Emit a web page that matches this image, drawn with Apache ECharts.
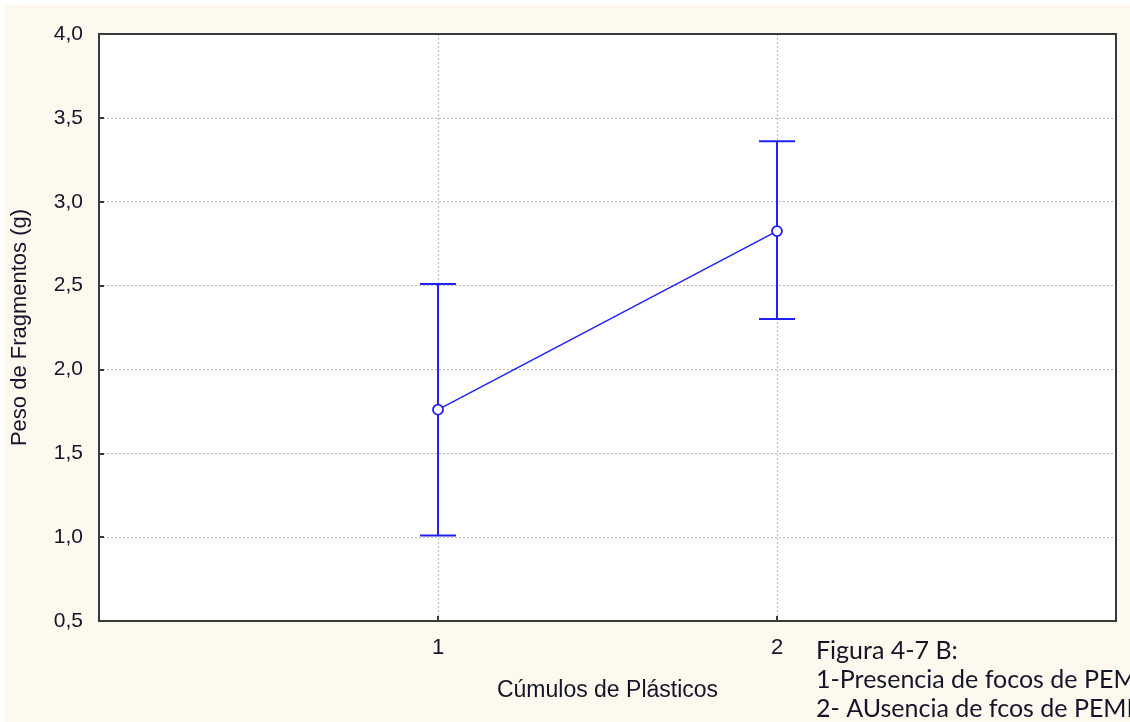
<!DOCTYPE html>
<html>
<head>
<meta charset="utf-8">
<script src="https://cdn.jsdelivr.net/npm/echarts@6/dist/echarts.min.js"></script>
<style>
  html, body { margin: 0; padding: 0; background: #ffffff; }
  #chart { width: 1130px; height: 722px; }
</style>
</head>
<body>
<div id="chart"></div>
<script>
// Groups of plastic accumulation (x positions on the numeric axis)
const groups = [1, 2];
// Mean fragment weight (g) and its interval bounds
const means = [1.76, 2.825];
const lower = [1.01, 2.30];
const upper = [2.51, 3.36];
// Axis ticks
const yTicks = [0.5, 1.0, 1.5, 2.0, 2.5, 3.0, 3.5, 4.0];
const captionLines = [
  'Figura 4-7 B:',
  '1-Presencia de focos de PEMP',
  '2- AUsencia de fcos de PEMP'
];

const blue = '#2020ff';
const ink = '#15152a';
const frame = '#3a3a3a';
const sans = '"Liberation Sans", Arial, sans-serif';

const chart = echarts.init(document.getElementById('chart'), null, { renderer: 'canvas' });

const fmt = v => v.toFixed(1).replace('.', ',');

const gridLine = {
  show: true, showMinLine: false, showMaxLine: false,
  lineStyle: { color: '#b8b8b8', type: [2, 2], width: 1 }
};

chart.setOption({
  animation: false,
  backgroundColor: '#ffffff',
  graphic: [
    { type: 'rect', z: -10, silent: true,
      shape: { x: 4, y: 5, width: 1126, height: 717 },
      style: { fill: '#fdf9ef' } },
    // plot frame
    { type: 'rect', z: 100, silent: true,
      shape: { x: 99, y: 34, width: 1017, height: 587 },
      style: { fill: null, stroke: frame, lineWidth: 2 } },
    ...captionLines.map((t, i) => ({
      type: 'text', left: 816, top: 638 + i * 29, z: 10,
      style: { text: t, fill: ink, font: '25px Lato, "Open Sans", sans-serif' }
    }))
  ],
  grid: {
    left: 99, top: 34, right: 14, bottom: 101,
    show: true, backgroundColor: '#ffffff', borderWidth: 0
  },
  xAxis: {
    type: 'value', min: 0, max: 3, interval: 1,
    name: 'Cúmulos de Plásticos', nameLocation: 'middle', nameGap: 58,
    nameTextStyle: { color: ink, fontSize: 23, fontFamily: sans },
    axisLine: { show: true, lineStyle: { color: frame, width: 2 } },
    axisTick: { show: true, inside: true, length: 5, lineStyle: { color: frame, width: 2 } },
    axisLabel: {
      color: ink, fontSize: 22, margin: 16, fontFamily: sans,
      formatter: v => (groups.includes(v) ? String(v) : '')
    },
    splitLine: gridLine
  },
  yAxis: {
    type: 'value', min: 0.5, max: 4.0, interval: 0.5,
    name: 'Peso de Fragmentos (g)', nameLocation: 'middle', nameGap: 68,
    nameTextStyle: { color: ink, fontSize: 22, fontFamily: sans },
    axisLine: { show: true, lineStyle: { color: frame, width: 2 } },
    axisTick: { show: true, inside: true, length: 5, lineStyle: { color: frame, width: 2 } },
    axisLabel: {
      color: ink, fontSize: 21, margin: 16, fontFamily: sans,
      formatter: v => (yTicks.some(t => Math.abs(t - v) < 1e-9) ? fmt(v) : '')
    },
    splitLine: gridLine
  },
  series: [
    {
      type: 'custom',
      z: 3,
      data: groups.map((g, i) => [g, lower[i], upper[i]]),
      renderItem: (params, api) => {
        const x = api.value(0);
        const lo = api.coord([x, api.value(1)]);
        const hi = api.coord([x, api.value(2)]);
        const cap = 18;
        const style = { stroke: blue, lineWidth: 2, fill: null };
        return {
          type: 'group',
          children: [
            { type: 'line', shape: { x1: lo[0], y1: lo[1], x2: hi[0], y2: hi[1] }, style },
            { type: 'line', shape: { x1: hi[0] - cap, y1: hi[1], x2: hi[0] + cap, y2: hi[1] }, style },
            { type: 'line', shape: { x1: lo[0] - cap, y1: lo[1], x2: lo[0] + cap, y2: lo[1] }, style }
          ]
        };
      }
    },
    {
      type: 'line',
      z: 4,
      data: groups.map((g, i) => [g, means[i]]),
      lineStyle: { color: blue, width: 1.5 },
      symbol: 'circle', symbolSize: 10,
      itemStyle: { color: '#ffffff', borderColor: blue, borderWidth: 1.8 }
    }
  ]
});
</script>
</body>
</html>
